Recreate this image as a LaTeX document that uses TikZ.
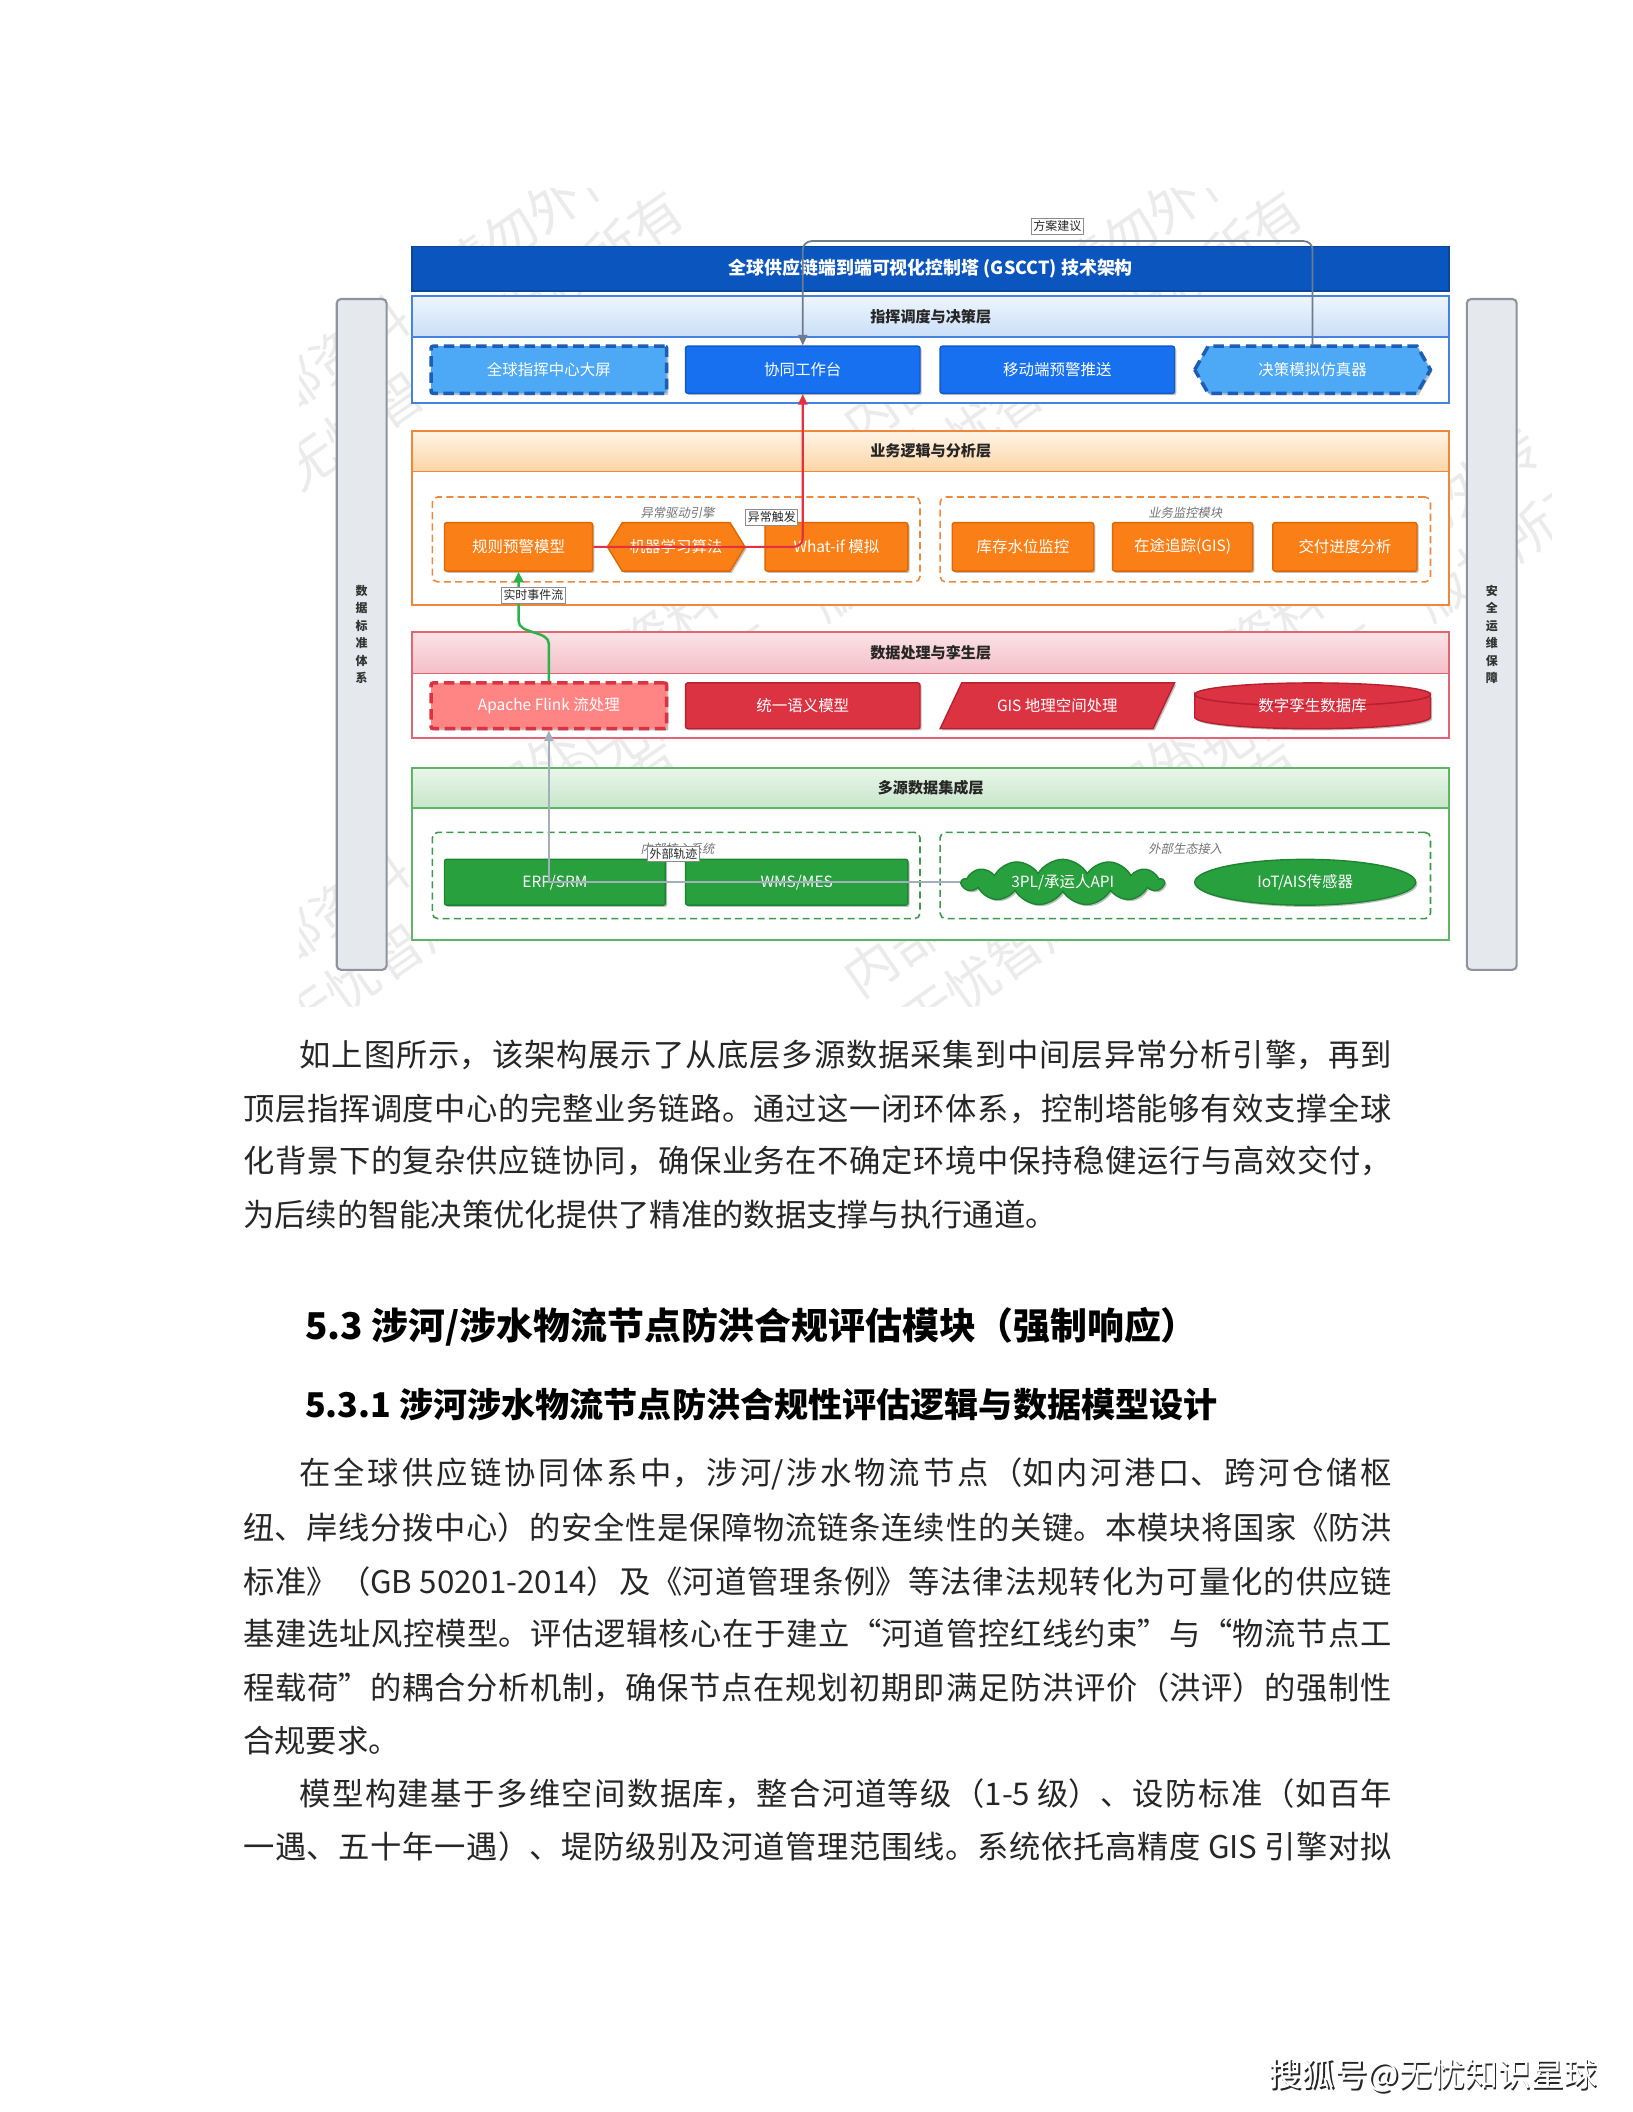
\documentclass[tikz,border=0pt]{standalone}
\usepackage{fontspec}
\setmainfont{Noto Sans CJK SC}
\newfontfamily\cjkit[FakeSlant=0.2]{Noto Sans CJK SC}
\usetikzlibrary{shapes.geometric,shapes.symbols,shadows,arrows.meta}
\XeTeXlinebreaklocale "zh"
\XeTeXlinebreakskip=0pt plus 4pt minus 0.3pt
\newcommand\fs[1]{\fontsize{#1}{#1}\selectfont}
\definecolor{tblue}{HTML}{0B55BE}
\definecolor{tblueD}{HTML}{0A4699}
\definecolor{cAline}{HTML}{4682E0}
\definecolor{cAtop}{HTML}{EEF5FE}
\definecolor{cAbot}{HTML}{CADFF8}
\definecolor{lblue}{HTML}{4DA8F5}
\definecolor{lblueD}{HTML}{1C5DB5}
\definecolor{mblue}{HTML}{1670EF}
\definecolor{mblueD}{HTML}{0F5BCB}
\definecolor{cBline}{HTML}{F0883A}
\definecolor{cBtop}{HTML}{FFF4E6}
\definecolor{cBbot}{HTML}{FCD5A5}
\definecolor{onode}{HTML}{F97F16}
\definecolor{onodeD}{HTML}{E06600}
\definecolor{cCline}{HTML}{E06673}
\definecolor{cCtop}{HTML}{FBE3E6}
\definecolor{cCbot}{HTML}{F3BFC6}
\definecolor{lred}{HTML}{FF8585}
\definecolor{rnode}{HTML}{DC3342}
\definecolor{rnodeD}{HTML}{B82030}
\definecolor{cDline}{HTML}{5FB566}
\definecolor{cDtop}{HTML}{EAF6EA}
\definecolor{cDbot}{HTML}{C6E6C9}
\definecolor{gnode}{HTML}{28A03E}
\definecolor{gnodeD}{HTML}{1D8530}
\definecolor{ggrp}{HTML}{3A9A46}
\definecolor{sidef}{HTML}{E5E8EC}
\definecolor{sided}{HTML}{8D949D}
\definecolor{lnTop}{HTML}{6E7B8B}
\definecolor{lnRed}{HTML}{E4313F}
\definecolor{lnGreen}{HTML}{2BB24C}
\definecolor{lnBot}{HTML}{A3AFBB}
\newcommand\bx[7]{\node[#6, minimum width={(#4-#2)*0.13465mm}, minimum height={(#5-#3)*0.13465mm}] (#1) at ({(#2+#4)/2},{(#3+#5)/2}) {#7};}
\newcommand\hexa[6]{\path[#6] (#1,{(#2+#4)/2}) -- ({#1+#5},#2) -- ({#3-#5},#2) -- (#3,{(#2+#4)/2}) -- ({#3-#5},#4) -- ({#1+#5},#4) -- cycle;}
\newcommand\jfill{\tolerance=10000\parfillskip=0pt\relax\noindent}
\newcommand\jl[4]{\node[bodyline, text width={(1033-#2)*0.13465mm}, align=justify] (#1) at (#2,#3) {\jfill #4\par};}
\tikzset{
  shd/.style={drop shadow={shadow xshift=0.5pt,shadow yshift=-0.5pt,opacity=0.25,fill=black}},
  layerbox/.style={inner sep=0pt, fill=white, line width=0.5pt},
  hdr/.style={inner sep=0pt, line width=0.5pt, font=\bfseries\fs{4.3}, text=black!85},
  nd/.style={inner sep=0pt, text=white, font=\fs{4.4}, line width=0.4pt, rounded corners=0.6pt},
  txt/.style={inner sep=0pt, text=white, font=\fs{4.4}},
  grp/.style={inner sep=0pt, draw=#1, dashed, dash pattern=on 2pt off 1.2pt, line width=0.45pt, rounded corners=1.5pt},
  glabel/.style={inner sep=0pt, font=\cjkit\fs{3.5}, text=black!55},
  side/.style={inner sep=0pt, fill=sidef, draw=sided, line width=0.6pt, rounded corners=1.2pt, font=\bfseries\fontsize{3.4}{5}\selectfont, align=center, text=black!80},
  elab/.style={inner sep=0.6pt, fill=white, draw=black!45, line width=0.2pt, font=\fs{3.4}, text=black!85},
  arrTop/.style={draw=lnTop, line width=0.5pt, rounded corners=2.5pt, -{Triangle[length=3pt,width=2.6pt]}},
  arrRed/.style={draw=lnRed, line width=0.6pt, rounded corners=2.5pt, -{Triangle[length=3pt,width=2.6pt]}},
  arrGreen/.style={draw=lnGreen, line width=0.7pt, -{Triangle[length=3pt,width=2.8pt]}},
  arrBot/.style={draw=lnBot, line width=0.5pt, -{Triangle[length=3pt,width=2.6pt]}},
  bodyline/.style={anchor=west, inner sep=0pt, font=\fs{8.9}, text=black!85},
  wm/.style={inner sep=0pt, font=\fs{15}, text=black!8, rotate=35, align=center}
}
\begin{document}
\begin{tikzpicture}[x=0.13465mm, y=-0.13465mm]
\useasboundingbox (0,0) rectangle (1212,1568);
\fill[white] (0,0) rectangle (1212,1568);

% watermarks (faint)
\begin{scope}
\clip (222,140) rectangle (1152,747);
\foreach \cx/\cy in {330/240, 790/240, 560/450, 1010/450, 330/650, 790/650}{
  \node[wm] at (\cx,\cy) {内部资料　请勿外传\\[5pt]©无忧智库　版权所有};
}
\end{scope}

% side bars
\bx{sbL}{250}{222}{287}{720}{side}{数\\据\\标\\准\\体\\系}
\bx{sbR}{1089}{222}{1126}{720}{side}{安\\全\\运\\维\\保\\障}

% title
\bx{title}{306}{183}{1076}{216}{inner sep=0pt, fill=tblue, draw=tblueD, line width=0.5pt, text=white, font=\bfseries\fs{5.1}}{全球供应链端到端可视化控制塔 (GSCCT) 技术架构}

% layer 1
\bx{L1}{306}{220}{1076}{299}{layerbox, draw=cAline}{}
\bx{H1}{306}{220}{1076}{250}{hdr, draw=cAline, top color=cAtop, bottom color=cAbot}{指挥调度与决策层}
\bx{n11}{320}{257}{495}{292}{nd, shd, fill=lblue, draw=lblueD, line width=1pt, dash pattern=on 3pt off 1.6pt}{全球指挥中心大屏}
\bx{n12}{509}{257}{683}{292}{nd, shd, fill=mblue, draw=mblueD}{协同工作台}
\bx{n13}{698}{257}{872}{292}{nd, shd, fill=mblue, draw=mblueD}{移动端预警推送}
\hexa{887}{257}{1062}{292}{10}{shd, fill=lblue, draw=lblueD, line width=1pt, dash pattern=on 3pt off 1.6pt}
\bx{n14}{887}{257}{1062}{292}{txt}{决策模拟仿真器}

% layer 2
\bx{L2}{306}{320}{1076}{449}{layerbox, draw=cBline}{}
\bx{H2}{306}{320}{1076}{350}{hdr, draw=cBline, top color=cBtop, bottom color=cBbot}{业务逻辑与分析层}
\bx{g1}{321}{369}{683}{432}{grp=cBline}{}
\bx{g2}{698}{369}{1062}{432}{grp=cBline}{}
\node[glabel] (g1l) at (503,381) {异常驱动引擎};
\node[glabel] (g2l) at (880,381) {业务监控模块};
\bx{n21}{330}{388}{440}{424}{nd, shd, fill=onode, draw=onodeD}{规则预警模型}
\hexa{451}{388}{553}{424}{11}{shd, fill=onode, draw=onodeD, line width=0.4pt}
\bx{n22}{451}{388}{553}{424}{txt}{机器学习算法}
\bx{n23}{568}{388}{674}{424}{nd, shd, fill=onode, draw=onodeD}{What-if 模拟}
\bx{n24}{707}{388}{812}{424}{nd, shd, fill=onode, draw=onodeD}{库存水位监控}
\bx{n25}{826}{388}{930}{424}{nd, shd, fill=onode, draw=onodeD}{在途追踪(GIS)}
\bx{n26}{945}{388}{1052}{424}{nd, shd, fill=onode, draw=onodeD}{交付进度分析}

% layer 3
\bx{L3}{306}{469}{1076}{548}{layerbox, draw=cCline}{}
\bx{H3}{306}{469}{1076}{500}{hdr, draw=cCline, top color=cCtop, bottom color=cCbot}{数据处理与孪生层}
\bx{n31}{320}{507}{495}{541}{nd, shd, fill=lred, draw=rnode, line width=1pt, dash pattern=on 3pt off 1.6pt}{Apache Flink 流处理}
\bx{n32}{509}{507}{683}{541}{nd, shd, fill=rnode, draw=rnodeD}{统一语义模型}
\path[shd, fill=rnode, draw=rnodeD, line width=0.4pt] (698,541) -- (714,507) -- (872,507) -- (856,541) -- cycle;
\bx{n33}{698}{507}{872}{541}{txt}{GIS 地理空间处理}
\path[shd, fill=rnode, draw=rnodeD, line width=0.4pt] (887,515.5) -- (887,532.5) arc[start angle=180, end angle=0, x radius=87.5, y radius=8.5] -- (1062,515.5) arc[start angle=0, end angle=180, x radius=87.5, y radius=8.5] -- cycle;
\path[fill=rnode, draw=rnodeD, line width=0.4pt] (974.5,515.5) ellipse[x radius=87.5, y radius=8.5];
\bx{n34}{887}{507}{1062}{541}{txt}{数字孪生数据库}

% layer 4
\bx{L4}{306}{570}{1076}{698}{layerbox, draw=cDline}{}
\bx{H4}{306}{570}{1076}{600}{hdr, draw=cDline, top color=cDtop, bottom color=cDbot}{多源数据集成层}
\bx{g3}{321}{618}{683}{682}{grp=ggrp}{}
\bx{g4}{698}{618}{1062}{682}{grp=ggrp}{}
\node[glabel] (g3l) at (503,630) {内部核心系统};
\node[glabel] (g4l) at (880,630) {外部生态接入};
\bx{n41}{330}{638}{494}{672}{nd, shd, fill=gnode, draw=gnodeD}{ERP/SRM}
\bx{n42}{509}{638}{674}{672}{nd, shd, fill=gnode, draw=gnodeD}{WMS/MES}
\bx{n43}{714}{638}{864}{672}{inner sep=0pt, text=white, font=\fs{4.4}, shd, cloud, cloud puffs=13, cloud puff arc=120, cloud ignores aspect, fill=gnode, draw=gnodeD, line width=0.4pt}{3PL/承运人API}
\bx{n44}{887}{638}{1051}{672}{inner sep=0pt, text=white, font=\fs{4.4}, shd, ellipse, fill=gnode, draw=gnodeD, line width=0.4pt}{IoT/AIS传感器}

% connectors
\coordinate (cTop) at (785,179);
\draw[arrTop] (n14.north) |- (cTop) -| (n12.north);
\draw[arrRed] (n21.east) -| (n12.south);
\coordinate (gA) at (407.5,478);
\coordinate (gB) at (385,461);
\draw[arrGreen] (n31.north) -- (gA) .. controls (407.5,468) and (385,471) .. (gB) -- (n21.south);
\draw[arrBot] (n43.west) -| (n31.south);

% connector labels
\node[elab] (e1) at (785,168) {方案建议};
\node[elab] (e2) at (573,384) {异常触发};
\node[elab] (e3) at (396,442) {实时事件流};
\node[elab] (e4) at (500,634) {外部轨迹};

% body text
\jl{p1a}{222}{783}{如上图所示，该架构展示了从底层多源数据采集到中间层异常分析引擎，再到}
\jl{p1b}{180}{823}{顶层指挥调度中心的完整业务链路。通过这一闭环体系，控制塔能够有效支撑全球}
\jl{p1c}{180}{862}{化背景下的复杂供应链协同，确保业务在不确定环境中保持稳健运行与高效交付，}
\node[bodyline] (p1d) at (180,902) {为后续的智能决策优化提供了精准的数据支撑与执行通道。};

\node[anchor=west, inner sep=0pt, font=\bfseries\fs{10.5}, text=black] (h1) at (226,985) {5.3 涉河/涉水物流节点防洪合规评估模块（强制响应）};
\node[anchor=west, inner sep=0pt, font=\bfseries\fs{9.7}, text=black] (h2) at (226,1043) {5.3.1 涉河涉水物流节点防洪合规性评估逻辑与数据模型设计};

\jl{p2a}{222}{1094}{在全球供应链协同体系中，涉河/涉水物流节点（如内河港口、跨河仓储枢}
\jl{p2b}{180}{1134}{纽、岸线分拨中心）的安全性是保障物流链条连续性的关键。本模块将国家《防洪}
\jl{p2c}{180}{1174}{标准》（GB 50201-2014）及《河道管理条例》等法律法规转化为可量化的供应链}
\jl{p2d}{180}{1213}{基建选址风控模型。评估逻辑核心在于建立“河道管控红线约束”与“物流节点工}
\jl{p2e}{180}{1253}{程载荷”的耦合分析机制，确保节点在规划初期即满足防洪评价（洪评）的强制性}
\node[bodyline] (p2f) at (180,1292) {合规要求。};
\jl{p3a}{222}{1332}{模型构建基于多维空间数据库，整合河道等级（1-5 级）、设防标准（如百年}
\jl{p3b}{180}{1371}{一遇、五十年一遇）、堤防级别及河道管理范围线。系统依托高精度 GIS 引擎对拟}

% footer
\node[inner sep=0pt, font=\fs{9.4}, text=black!85] (ft0) at (1065,1542) {搜狐号@无忧知识星球};
\node[inner sep=0pt, font=\fs{9.4}, text=white] (ft) at (1064,1541) {搜狐号@无忧知识星球};
\end{tikzpicture}
\end{document}
